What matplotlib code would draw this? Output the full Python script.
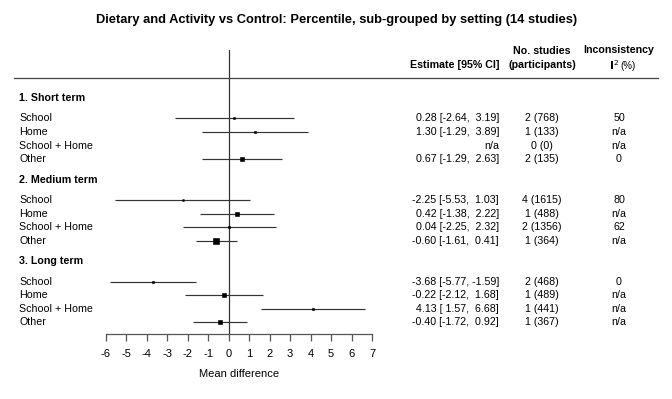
import matplotlib
matplotlib.use("Agg")
import matplotlib.pyplot as plt
import matplotlib.transforms as mtransforms
import numpy as np

plt.rcParams['font.family'] = ['Liberation Sans', 'DejaVu Sans']

title = "Dietary and Activity vs Control: Percentile, sub-grouped by setting (14 studies)"
groups = ["1. Short term", "2. Medium term", "3. Long term"]
settings = ["School", "Home", "School + Home", "Other"]

# estimates (NaN = not available)
est = [[0.28, 1.30, np.nan, 0.67],
       [-2.25, 0.42, 0.04, -0.60],
       [-3.68, -0.22, 4.13, -0.40]]
lo = [[-2.64, -1.29, np.nan, -1.29],
      [-5.53, -1.38, -2.25, -1.61],
      [-5.77, -2.12, 1.57, -1.72]]
hi = [[3.19, 3.89, np.nan, 2.63],
      [1.03, 2.22, 2.32, 0.41],
      [-1.59, 1.68, 6.68, 0.92]]
n_studies = [[2, 1, 0, 2], [4, 1, 2, 1], [2, 1, 1, 1]]
n_part = [[768, 133, 0, 135], [1615, 488, 1356, 364], [468, 489, 441, 367]]
i2 = [["50", "n/a", "n/a", "0"], ["80", "n/a", "62", "n/a"], ["0", "n/a", "n/a", "n/a"]]
xticks = list(range(-6, 8))

W, H = 672, 399
fig = plt.figure(figsize=(W / 100, H / 100), dpi=100)

def fx(px):
    return px / W

def fy(py):
    return 1 - py / H

ax_l, ax_r = 105.7, 372.0
ax_t, ax_b = 50.0, 334.0
ax = fig.add_axes([fx(ax_l), fy(ax_b), fx(ax_r - ax_l), (ax_b - ax_t) / H])
ax.set_xlim(-6, 7)
row_px = 13.6
y0px = 98.0
ax.set_ylim((ax_b - y0px) / row_px, (ax_t - y0px) / row_px)
for s in ['top', 'right', 'left']:
    ax.spines[s].set_visible(False)
ax.spines['bottom'].set_color('#555555')
ax.spines['bottom'].set_linewidth(0.9)
ax.set_yticks([])
ax.set_xticks(xticks)
ax.set_xticklabels([str(t) for t in xticks], fontsize=8)
ax.tick_params(axis='x', direction='out', length=5, width=0.9, color='#555555', pad=6)
ax.set_xlabel("Mean difference", fontsize=8, labelpad=7)
ax.patch.set_alpha(0)

ax.axvline(0, color='#333333', lw=0.9, zorder=1)

trans = mtransforms.blended_transform_factory(fig.transFigure, ax.transData)
fs = 7.7
for g, gname in enumerate(groups):
    yh = g * 6
    ax.text(fx(19), yh, gname, transform=trans, fontsize=fs, fontweight='bold',
            va='center', ha='left')
    for k, sname in enumerate(settings):
        y = yh + 1.5 + k
        ax.text(fx(19), y, sname, transform=trans, fontsize=fs, va='center', ha='left')
        e, l, h = est[g][k], lo[g][k], hi[g][k]
        if np.isnan(e):
            etxt = "n/a"
        else:
            ax.plot([l, h], [y, y], color='#333333', lw=0.85, zorder=2, solid_capstyle='butt')
            size_px = 14.5 / (h - l)
            ax.plot([e], [y], marker='s', color='black', ms=(size_px - 0.6) / 1.389,
                    mew=0.43, mec='black', zorder=3)
            etxt = f"{e:.2f} [{l:5.2f}, {h:5.2f}]"
        ax.text(fx(499), y, etxt, transform=trans, fontsize=fs, va='center', ha='right')
        ax.text(fx(542), y, f"{n_studies[g][k]} ({n_part[g][k]})", transform=trans,
                fontsize=fs, va='center', ha='center')
        ax.text(fx(619), y, i2[g][k], transform=trans, fontsize=fs, va='center', ha='center')

# header line
fig.add_artist(plt.Line2D([fx(13.5), fx(658)], [fy(77.5), fy(77.5)],
                          color='#444444', lw=0.9))

# column headers
fig.text(fx(499), fy(65), "Estimate [95% CI]", fontsize=fs, fontweight='bold',
         ha='right', va='center')
fig.text(fx(542), fy(51), "No. studies", fontsize=fs, fontweight='bold', ha='center', va='center')
fig.text(fx(542), fy(64.5), "(participants)", fontsize=fs, fontweight='bold', ha='center', va='center')
fig.text(fx(618.5), fy(50), "Inconsistency", fontsize=fs, fontweight='bold', ha='center', va='center')
fig.text(fx(619), fy(65), r"$\mathbf{I}^{2}$", fontsize=fs, ha='right', va='center')
fig.text(fx(620), fy(66), "(%)", fontsize=7, ha='left', va='center')

fig.text(fx(337), fy(20), title, fontsize=9.3, fontweight='bold', ha='center', va='center')

fig.savefig("out.png", dpi=100)
